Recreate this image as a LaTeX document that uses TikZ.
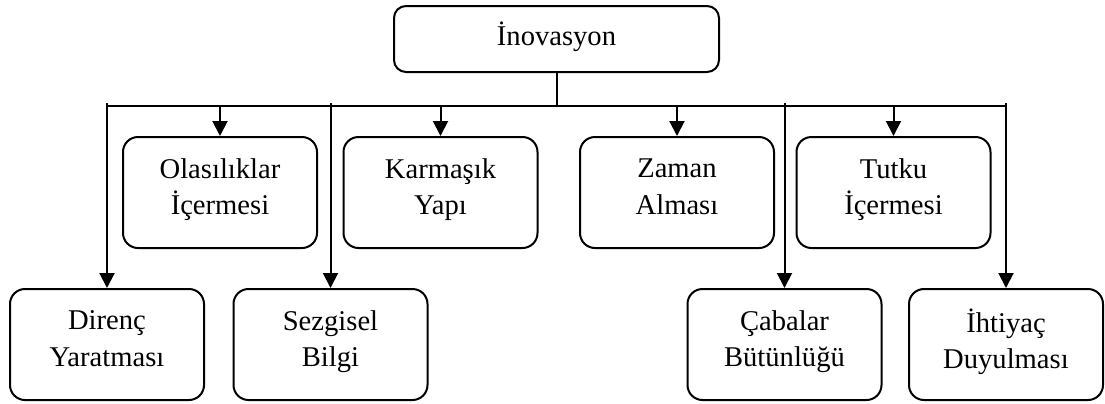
\documentclass[tikz,border=0pt]{standalone}
\usepackage{fontspec}
\setmainfont{Liberation Serif}
\usetikzlibrary{arrows.meta}

\newcommand\boxstrut{\rule[-5.75pt]{0pt}{16.75pt}}
\tikzstyle{every node}=[font=\fontsize{14.3}{18.25}\selectfont]
\tikzstyle{box}=[draw, line width=1pt, rounded corners=7.5pt, minimum width=97pt, minimum height=55.5pt, align=center, inner sep=0pt,
  execute at begin node=\boxstrut, execute at end node=\boxstrut]
\tikzstyle{arr}=[-{Triangle[width=7.5pt,length=7.5pt]}]

\begin{document}
\begin{tikzpicture}[x=0.5pt, y=-0.5pt, line width=1pt]
    \useasboundingbox (0,0) rectangle (1105,403);
    \node[box, minimum width=162.5pt, minimum height=33pt, rounded corners=6pt] (ino) at (556.5,39) {İnovasyon};
    % upper row
    \node[box] (olas) at (220,192.5) {Olasılıklar\\İçermesi};
    \node[box] (karm) at (440.5,192.5) {Karmaşık\\Yapı};
    \node[box] (zaman) at (677,192.5) {Zaman\\Alması};
    \node[box] (tutku) at (893.5,192.5) {Tutku\\İçermesi};
    % lower row
    \node[box] (direnc) at (107,344.5) {Direnç\\Yaratması};
    \node[box] (sezgi) at (330.5,344.5) {Sezgisel\\Bilgi};
    \node[box] (caba) at (784.5,344.5) {Çabalar\\Bütünlüğü};
    \node[box] (ihtiyac) at (1006,344.5) {İhtiyaç\\Duyulması};
    \coordinate (busL) at (107,106);
    \coordinate (busR) at (1006,106);
    \path[draw]
    (busL) -- (busR)
    (ino) -- (ino |- busL)
	;
    \draw[arr] (olas.north |- busL) -- (olas.north);
    \draw[arr] (karm.north |- busL) -- (karm.north);
    \draw[arr] (zaman.north |- busL) -- (zaman.north);
    \draw[arr] (tutku.north |- busL) -- (tutku.north);
    \draw[arr] (direnc.north |- busL) ++(0,-3) -- (direnc.north);
    \draw[arr] (sezgi.north |- busL) ++(0,-3) -- (sezgi.north);
    \draw[arr] (caba.north |- busL) ++(0,-3) -- (caba.north);
    \draw[arr] (ihtiyac.north |- busL) ++(0,-3) -- (ihtiyac.north);
  \end{tikzpicture}
\end{document}
